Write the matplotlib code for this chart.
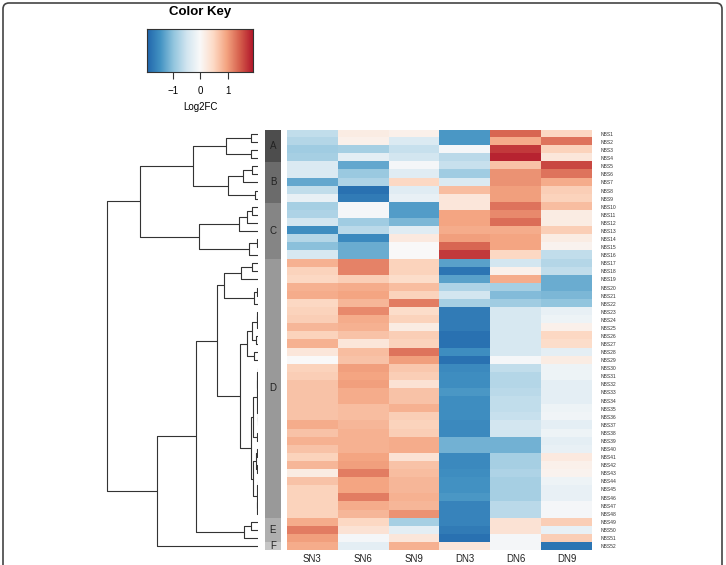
import numpy as np
import matplotlib
matplotlib.use("Agg")
import matplotlib.pyplot as plt
from matplotlib.colors import LinearSegmentedColormap
from matplotlib.patches import FancyBboxPatch
from matplotlib.transforms import IdentityTransform

plt.rcParams['font.family'] = ['Liberation Sans', 'DejaVu Sans']

# ---------------- data ----------------
columns = ["SN3", "SN6", "SN9", "DN3", "DN6", "DN9"]
row_labels = ["NBS%d" % i for i in range(1, 53)]

SN3 = [-0.6, -0.7, -0.85, -0.8, -0.35, -0.35, -1.25, -0.6, -0.2, -0.8, -0.75, -0.45, -1.5, -0.7, -1.0, -0.4,
       0.85, 0.55, 0.5, 0.85, 0.9, 0.5, 0.55, 0.6, 0.8, 0.55, 0.85, 0.3, 0.0, 0.55, 0.6, 0.7, 0.7, 0.7,
       0.7, 0.7, 0.9, 0.7, 0.85, 0.7, 0.55, 0.8, 0.2, 0.7, 0.55, 0.55, 0.55, 0.55, 0.9, 1.25, 1.0, 0.9]
SN6 = [0.2, 0.15, -0.8, -0.25, -1.25, -0.9, -0.75, -1.8, -1.7, -0.05, -0.05, -0.85, -0.65, -1.55, -1.2, -1.2,
       1.2, 1.2, 0.6, 0.9, 0.95, 0.8, 1.15, 0.9, 0.85, 0.7, 0.3, 0.75, 0.7, 1.0, 0.95, 1.0, 0.9, 0.9,
       0.75, 0.75, 0.8, 0.85, 0.85, 0.85, 0.95, 1.0, 1.25, 0.95, 0.95, 1.25, 0.9, 0.8, 0.5, 0.35, -0.05, -0.25]
SN9 = [0.15, -0.35, -0.55, -0.45, -0.05, -0.3, 0.5, -0.3, -0.2, -1.35, -1.35, -1.1, -0.3, 0.25, 0.0, 0.0,
       0.55, 0.55, 0.45, 0.75, 0.55, 1.25, 0.45, 0.55, 0.2, 0.6, 0.55, 1.3, 1.0, 0.65, 0.6, 0.35, 0.7, 0.7,
       0.85, 0.6, 0.55, 0.6, 0.9, 0.9, 0.35, 0.7, 0.75, 0.8, 0.8, 0.85, 0.8, 1.1, -0.8, -0.25, 0.3, 0.85]
DN3 = [-1.4, -1.4, -0.05, -0.65, -0.55, -0.85, -0.35, 0.75, 0.3, 0.3, 0.95, 0.95, 0.9, 1.0, 1.4, 1.7,
       -1.3, -1.75, -1.3, -0.75, -0.45, -0.8, -1.7, -1.7, -1.7, -1.8, -1.8, -1.5, -1.8, -1.55, -1.5, -1.5,
       -1.4, -1.5, -1.5, -1.5, -1.55, -1.55, -1.15, -1.15, -1.55, -1.55, -1.5, -1.45, -1.45, -1.4, -1.6,
       -1.6, -1.6, -1.7, -1.8, 0.3]
DN6 = [1.4, 0.9, 1.7, 1.85, 0.7, 1.1, 1.1, 1.0, 1.0, 1.3, 1.15, 1.35, 0.9, 0.95, 0.95, 0.5,
       -0.45, 0.15, 0.9, -0.8, -1.05, -0.85, -0.4, -0.4, -0.4, -0.4, -0.4, -0.4, -0.05, -0.6, -0.7, -0.7,
       -0.65, -0.6, -0.6, -0.55, -0.45, -0.45, -1.15, -1.15, -0.8, -0.8, -0.75, -0.8, -0.8, -0.8, -0.65,
       -0.65, 0.35, 0.35, -0.05, -0.05]
DN9 = [0.5, 1.3, 0.55, 0.3, 1.6, 1.3, 0.9, 0.6, 0.55, 0.75, 0.2, 0.2, 0.6, 0.2, 0.1, -0.6,
       -0.7, -0.6, -1.2, -1.2, -1.1, -0.95, -0.2, -0.15, 0.15, 0.5, 0.45, -0.25, 0.2, -0.15, -0.15, -0.25,
       -0.25, -0.25, -0.15, -0.1, -0.25, -0.15, -0.25, -0.2, 0.25, 0.15, 0.1, -0.15, -0.2, -0.2, -0.05,
       -0.05, 0.6, -0.2, 0.6, -1.75]

group_labels = ["A", "B", "C", "D", "E", "F"]
group_sizes = [4, 5, 7, 32, 3, 1]
group_colors = ["#4d4d4d", "#6b6b6b", "#858585", "#999999", "#afafaf", "#c6c6c6"]

# row dendrogram: (height, left, right); leaves are row numbers
D2b = (0.7,
       (0.47, (0.1, (0.06, (0.03, 30, 31), (0.04, 32, 33)), (0.05, (0.02, 34, 35), (0.03, 36, 37))),
        (0.15, 38, 39)),
       (0.55, (0.2, (0.08, 40, 41), (0.06, 42, 43)), (0.15, (0.05, 44, 45), (0.08, (0.04, 46, 47), 48))))
D2a = (1.13, (0.63, (0.13, (0.07, 23, 24), 25), (0.2, 26, 27)), (0.37, 28, 29))
D1 = (3.37, (1.73, (0.6, 17, 18), 19), (0.4, (0.1, 20, 21), 22))
Dcl = (4.13, D1, (1.8, D2a, D2b))
Ecl = (1.37, (0.7, 49, 50), 51)
Acl = (3.23, (0.73, 1, 2), (0.73, 3, 4))
Bcl = (3.03, (1.47, (0.63, 5, 6), 7), (0.3, 8, 9))
Ccl = (5.9, (1.9, (1.13, (0.63, 10, 11), 12), 13), (0.9, (0.13, 14, 15), 16))
tree = (15.13, (11.8, (6.47, Acl, Bcl), Ccl), (10.13, (6.23, Dcl, Ecl), 52))

vmin, vmax = -1.93, 1.93
key_ticks = [-1, 0, 1]

# ---------------- figure ----------------
W, H = 726, 565
fig = plt.figure(figsize=(W / 100, H / 100), dpi=100)

def px_axes(x0, y0, x1, y1):
    return fig.add_axes([x0 / W, 1 - y1 / H, (x1 - x0) / W, (y1 - y0) / H])

cmap = LinearSegmentedColormap.from_list(
    "rdbu9", ["#2166ac", "#4393c3", "#92c5de", "#d1e5f0", "#f9f9f9",
              "#fddbc7", "#f4a582", "#d6604d", "#b2182b"])

data = np.array([SN3, SN6, SN9, DN3, DN6, DN9]).T
nrow = data.shape[0]

# heatmap
axh = px_axes(287, 130, 592, 550)
axh.imshow(data, aspect='auto', cmap=cmap, vmin=vmin, vmax=vmax,
           interpolation='nearest', extent=(0.5, len(columns) + 0.5, nrow + 0.5, 0.5))
axh.set_xticks(range(1, len(columns) + 1))
axh.set_xticklabels(columns, fontsize=7, color="#222222")
axh.set_yticks(range(1, nrow + 1))
axh.set_yticklabels(row_labels, fontsize=3.6, color="#333333")
axh.yaxis.tick_right()
axh.tick_params(axis='both', length=0)
axh.tick_params(axis='y', pad=6)
axh.tick_params(axis='x', pad=3)
for s in axh.spines.values():
    s.set_visible(False)

# group side bar
axg = px_axes(265, 130, 281, 550)
start = 0
for lab, n, c in zip(group_labels, group_sizes, group_colors):
    axg.axhspan(start + 0.5, start + n + 0.5, color=c, lw=0)
    axg.text(0.5, start + (n + 1) / 2, lab, ha='center', va='center', fontsize=7, color="#222222")
    start += n
axg.set_xlim(0, 1)
axg.set_ylim(nrow + 0.5, 0.5)
axg.axis('off')

# dendrogram
axd = px_axes(95, 130, 258, 550)

def draw(node):
    if isinstance(node, int):
        return float(node), 0.0
    h, l, r = node
    yl, hl = draw(l)
    yr, hr = draw(r)
    axd.plot([hl, h, h, hr], [yl, yl, yr, yr], color="#333333", lw=0.8, solid_capstyle='butt')
    return (yl + yr) / 2, h

draw(tree)
axd.set_xlim(16.3, 0)
axd.set_ylim(nrow + 0.5, 0.5)
axd.axis('off')

# color key
axk = px_axes(147.3, 29.3, 253.3, 72.3)
grad = np.linspace(vmin, vmax, 256)[None, :]
axk.imshow(grad, aspect='auto', cmap=cmap, vmin=vmin, vmax=vmax, extent=(vmin, vmax, 0, 1))
axk.set_xlim(vmin, vmax)
axk.set_yticks([])
axk.set_xticks(key_ticks)
axk.tick_params(axis='x', length=5, width=0.8, labelsize=7, pad=5, color="#333333")
axk.set_xlabel("Log2FC", fontsize=7, labelpad=4)
for s in axk.spines.values():
    s.set_linewidth(0.8)
    s.set_color("#333333")
fig.text(200 / W, 1 - 12 / H, "Color Key", ha='center', va='center', fontsize=9.5, fontweight='bold')

# outer rounded border
border = FancyBboxPatch((3, -10), 719, 572, boxstyle="round,pad=0,rounding_size=6",
                        transform=IdentityTransform(), fill=False, ec="#444444", lw=1.2)
fig.patches.append(border)

fig.savefig("out.png", dpi=100)
